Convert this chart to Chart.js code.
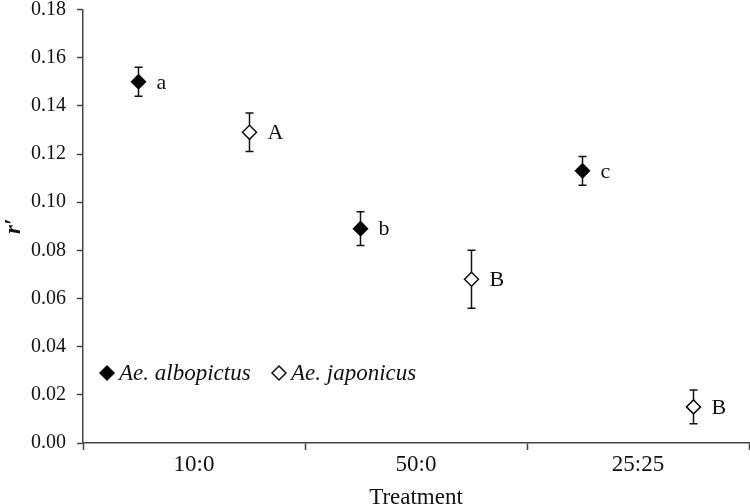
<!DOCTYPE html>
<html>
<head>
<meta charset="utf-8">
<script src="https://cdn.jsdelivr.net/npm/chart.js@4.4.1/dist/chart.umd.min.js"></script>
<style>
  html, body { margin: 0; padding: 0; background: #fff; }
  #wrap { width: 750px; height: 504px; position: relative; }
</style>
</head>
<body>
<div id="wrap"><canvas id="rChart"></canvas></div>
<script>
var categories = ['10:0', '50:0', '25:25'];
var albopictusMean = [0.150, 0.089, 0.113];
var albopictusErr = [0.006, 0.007, 0.006];
var albopictusLetters = ['a', 'b', 'c'];
var japonicusMean = [0.129, 0.068, 0.015];
var japonicusErr = [0.008, 0.012, 0.007];
var japonicusLetters = ['A', 'B', 'B'];
var seriesNames = ['Ae. albopictus', 'Ae. japonicus'];

var shift = 0.25; // side-by-side offset inside each treatment
var serif = "'Liberation Serif', 'Times New Roman', serif";

function toPoints(means, errs, letters, dx) {
    var pts = [];
    for (var i in means) {
        pts.push({ x: Number(i) + dx, y: means[i], err: errs[i], letter: letters[i] });
    }
    return pts;
}

// error bars + significance letters + in-plot legend
var extrasPlugin = {
    id: 'extras',
    afterDatasetsDraw: function(chart) {
        var ctx = chart.ctx;
        var yScale = chart.scales.y;
        ctx.save();
        chart.data.datasets.forEach(function(ds, di) {
            var meta = chart.getDatasetMeta(di);
            meta.data.forEach(function(el, i) {
                var p = ds.data[i];
                var top = yScale.getPixelForValue(p.y + p.err);
                var bot = yScale.getPixelForValue(p.y - p.err);
                ctx.strokeStyle = '#111';
                ctx.lineWidth = 1.5;
                ctx.beginPath();
                ctx.moveTo(el.x, top); ctx.lineTo(el.x, el.y - 7);
                ctx.moveTo(el.x, el.y + 7); ctx.lineTo(el.x, bot);
                ctx.moveTo(el.x - 4, top); ctx.lineTo(el.x + 4, top);
                ctx.moveTo(el.x - 4, bot); ctx.lineTo(el.x + 4, bot);
                ctx.stroke();
                ctx.fillStyle = '#111';
                ctx.font = '22px ' + serif;
                ctx.textAlign = 'left';
                ctx.textBaseline = 'middle';
                ctx.fillText(p.letter, el.x + 18, el.y + 1);
            });
        });
        var lx = [107, 279];
        var ly = 373;
        chart.data.datasets.forEach(function(ds, di) {
            ctx.fillStyle = ds.pointBackgroundColor;
            ctx.strokeStyle = '#111';
            ctx.lineWidth = 1.5;
            ctx.beginPath();
            ctx.moveTo(lx[di], ly - 7); ctx.lineTo(lx[di] + 7, ly);
            ctx.lineTo(lx[di], ly + 7); ctx.lineTo(lx[di] - 7, ly);
            ctx.closePath();
            ctx.fill(); ctx.stroke();
            ctx.fillStyle = '#111';
            ctx.font = 'italic 23px ' + serif;
            ctx.textAlign = 'left';
            ctx.textBaseline = 'middle';
            ctx.fillText(ds.label, lx[di] + 12, ly + 1);
        });
        ctx.restore();
    }
};

var CHART = document.getElementById('rChart');
var rChart = new Chart(CHART, {
    type: 'scatter',
    data: {
        datasets: [
        {
            label: seriesNames[0],
            data: toPoints(albopictusMean, albopictusErr, albopictusLetters, -shift),
            pointStyle: 'rectRot',
            pointRadius: 7,
            pointHoverRadius: 7,
            pointBackgroundColor: '#000',
            pointBorderColor: '#000',
            pointBorderWidth: 1.5
        },
        {
            label: seriesNames[1],
            data: toPoints(japonicusMean, japonicusErr, japonicusLetters, shift),
            pointStyle: 'rectRot',
            pointRadius: 7,
            pointHoverRadius: 7,
            pointBackgroundColor: '#fff',
            pointBorderColor: '#111',
            pointBorderWidth: 1.5
        }
        ]
    },
    options: {
        responsive: true,
        maintainAspectRatio: false,
        animation: false,
        layout: { autoPadding: false, padding: 0 },
        plugins: {
            legend: { display: false },
            tooltip: { enabled: false }
        },
        scales: {
            x: {
                type: 'linear',
                min: -0.5,
                max: 2.5,
                afterFit: function(scale) {
                    scale.height = 61;
                    scale.paddingLeft = 0;
                    scale.paddingRight = 1;
                },
                border: { display: true, color: '#444', width: 1.5 },
                grid: {
                    drawOnChartArea: false,
                    drawTicks: true,
                    tickLength: 7,
                    tickWidth: 1.5,
                    tickColor: function(c) {
                        return (c.tick && Number.isInteger(c.tick.value)) ? 'rgba(0,0,0,0)' : '#444';
                    }
                },
                ticks: {
                    stepSize: 0.5,
                    autoSkip: false,
                    maxRotation: 0,
                    padding: 1,
                    color: '#111',
                    font: { family: serif, size: 23 },
                    callback: function(v) {
                        return Number.isInteger(v) ? categories[v] : '';
                    }
                },
                title: {
                    display: true,
                    text: 'Treatment',
                    color: '#111',
                    font: { family: serif, size: 23, lineHeight: 0.55 },
                    padding: { top: 0, bottom: 0 }
                }
            },
            y: {
                min: 0,
                max: 0.18,
                afterFit: function(scale) {
                    scale.width = 83;
                    scale.paddingTop = 9.5;
                    scale.paddingBottom = 0;
                },
                border: { display: true, color: '#444', width: 1.5 },
                grid: {
                    drawOnChartArea: false,
                    drawTicks: true,
                    tickLength: 6,
                    tickWidth: 1.5,
                    tickColor: '#444'
                },
                ticks: {
                    stepSize: 0.02,
                    padding: 11,
                    color: '#111',
                    font: { family: serif, size: 20 },
                    callback: function(v) { return v.toFixed(2); }
                },
                title: {
                    display: true,
                    text: 'r\u2032',
                    color: '#111',
                    font: { family: serif, size: 23, style: 'italic', weight: 'bold' },
                    padding: { top: 0, bottom: 0 }
                }
            }
        }
    },
    plugins: [extrasPlugin]
});
</script>
</body>
</html>
